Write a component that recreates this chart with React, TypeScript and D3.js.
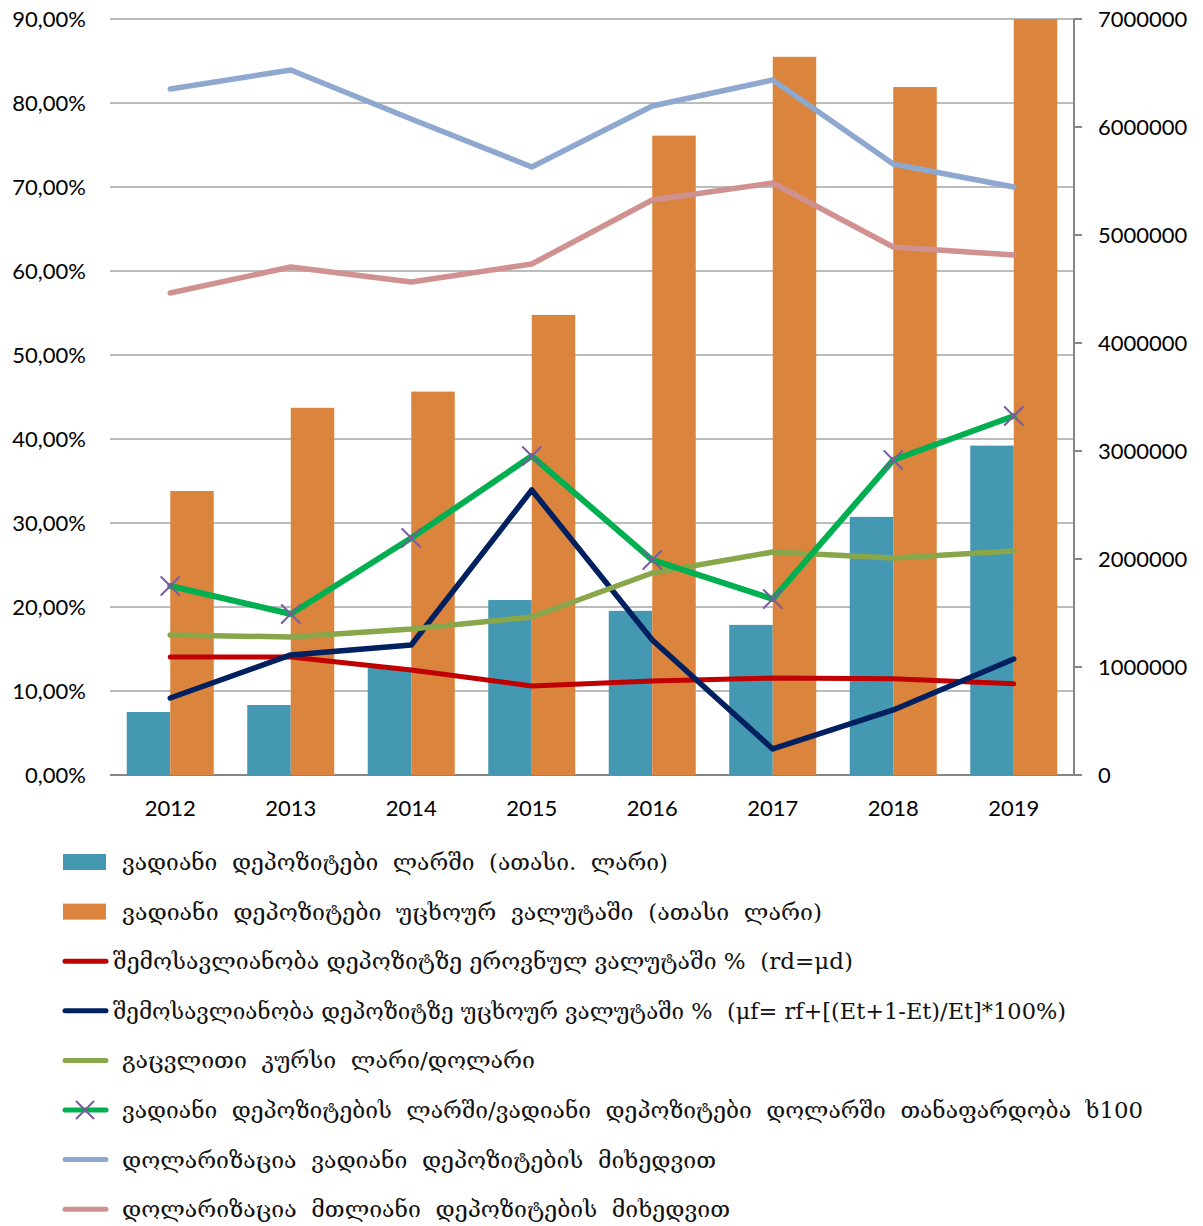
import React from 'react';
import * as d3 from 'd3';

const years = ['2012', '2013', '2014', '2015', '2016', '2017', '2018', '2019'];

// bars, right axis (thousand GEL)
const gelDeposits = [583000, 648000, 990000, 1620000, 1520000, 1390000, 2390000, 3050000];
const fxDeposits = [2630000, 3400000, 3550000, 4260000, 5920000, 6650000, 6370000, 7000000];

// lines, left axis (%)
const gelYield = [14.05, 14.05, 12.5, 10.6, 11.2, 11.55, 11.45, 10.85];
const fxYield = [9.17, 14.29, 15.48, 33.93, 16.07, 3.1, 7.74, 13.81];
const exchangeRate = [16.67, 16.43, 17.38, 18.81, 24.05, 26.55, 25.83, 26.67];
const depositRatio = [22.5, 19.17, 28.21, 37.98, 25.6, 20.95, 37.5, 42.74];
const dollarTerm = [81.67, 83.93, 78.1, 72.38, 79.64, 82.74, 72.74, 70.0];
const dollarTotal = [57.38, 60.48, 58.69, 60.83, 68.45, 70.48, 62.86, 61.9];

const legendLabels = [
  'ვადიანი  დეპოზიტები  ლარში  (ათასი.  ლარი)',
  'ვადიანი  დეპოზიტები  უცხოურ  ვალუტაში  (ათასი  ლარი)',
  'შემოსავლიანობა დეპოზიტზე ეროვნულ ვალუტაში %  (rd=μd)',
  'შემოსავლიანობა დეპოზიტზე უცხოურ ვალუტაში %  (μf= rf+[(Et+1-Et)/Et]*100%)',
  'გაცვლითი  კურსი  ლარი/დოლარი',
  'ვადიანი  დეპოზიტების  ლარში/ვადიანი  დეპოზიტები  დოლარში  თანაფარდობა  ხ100',
  'დოლარიზაცია  ვადიანი  დეპოზიტების  მიხედვით',
  'დოლარიზაცია  მთლიანი  დეპოზიტების  მიხედვით',
];

const TEAL = '#4498b1';
const ORANGE = '#db843d';
const axisFont = 'Lato, "Liberation Sans", sans-serif';
const legendFont = '"DejaVu Serif", "DejaVu Sans", serif';

export default function App() {
  const width = 1203;
  const height = 1226;
  const left = 110, right = 1074, top = 19, bottom = 775;

  const x = d3.scaleBand().domain(years).range([left, right]).padding(0);
  const cx = (y: string) => (x(y) as number) + x.bandwidth() / 2;
  const barW = x.bandwidth() * 0.361;

  const yL = d3.scaleLinear().domain([0, 90]).range([bottom, top]);
  const yR = d3.scaleLinear().domain([0, 7000000]).range([bottom, top]);

  const fmtPct = (v: number) => d3.format('.2f')(v).replace('.', ',') + '%';

  const line = d3.line<number>()
    .x((_, i) => cx(years[i]))
    .y(v => yL(v));

  const lineSeries = [
    { values: gelYield, color: '#c00000', w: 5 },
    { values: fxYield, color: '#002060', w: 5.5 },
    { values: exchangeRate, color: '#8aa64b', w: 5.5 },
    { values: depositRatio, color: '#00b050', w: 6, marker: true },
    { values: dollarTerm, color: '#8ea8d0', w: 5.5 },
    { values: dollarTotal, color: '#d09291', w: 5.5 },
  ];

  // legend
  const legendTop = 862;
  const legendStep = 49.6;
  const legendEnds = [668, 822, 853, 1066, 535, 1143, 716, 730];
  const legendSymbols = [
    { type: 'rect', color: TEAL },
    { type: 'rect', color: ORANGE },
    { type: 'line', color: '#c00000' },
    { type: 'line', color: '#002060' },
    { type: 'line', color: '#8aa64b' },
    { type: 'line', color: '#00b050', marker: true },
    { type: 'line', color: '#8ea8d0' },
    { type: 'line', color: '#d09291' },
  ];

  const cross = (px: number, py: number, key: string) => (
    <g key={key} stroke="#7a5c9e" strokeWidth={2}>
      <line x1={px - 9} y1={py - 9} x2={px + 9} y2={py + 9} />
      <line x1={px - 9} y1={py + 9} x2={px + 9} y2={py - 9} />
    </g>
  );

  return (
    <div style={{ position: 'absolute', left: 0, top: 0 }}>
      <svg width={width} height={height} style={{ display: 'block', background: '#fff' }}>
        {/* gridlines */}
        <g>
          {yL.ticks(9).map(t => (
            <line key={t} x1={left} x2={right} y1={yL(t)} y2={yL(t)}
              stroke={t === 0 ? '#868686' : '#a6a6a6'} strokeWidth={t === 0 ? 2 : 1.6} />
          ))}
        </g>

        {/* bars */}
        <g>
          {years.map((yr, i) => (
            <g key={yr}>
              <rect x={cx(yr) - barW} y={yR(gelDeposits[i])} width={barW}
                height={bottom - yR(gelDeposits[i])} fill={TEAL} />
              <rect x={cx(yr)} y={yR(fxDeposits[i])} width={barW}
                height={bottom - yR(fxDeposits[i])} fill={ORANGE} />
            </g>
          ))}
        </g>

        {/* right axis */}
        <g>
          <line x1={right} x2={right} y1={top} y2={bottom + 1} stroke="#868686" strokeWidth={2} />
          {yR.ticks(7).map(t => (
            <g key={t}>
              <line x1={right} x2={right + 8} y1={yR(t)} y2={yR(t)} stroke="#868686" strokeWidth={2} />
              <text x={1098} y={yR(t)} dy="0.36em" fontFamily={axisFont} fontSize={22} fill="#000">
                {t}
              </text>
            </g>
          ))}
        </g>

        {/* left axis labels */}
        <g>
          {yL.ticks(9).map(t => (
            <text key={t} x={86} y={yL(t)} dy="0.36em" textAnchor="end"
              fontFamily={axisFont} fontSize={22} fill="#000">
              {fmtPct(t)}
            </text>
          ))}
        </g>

        {/* x labels */}
        <g>
          {years.map(yr => (
            <text key={yr} x={cx(yr)} y={808} dy="0.36em" textAnchor="middle"
              fontFamily={axisFont} fontSize={22} fill="#000">
              {yr}
            </text>
          ))}
        </g>

        {/* lines */}
        <g fill="none" strokeLinejoin="round" strokeLinecap="round">
          {lineSeries.map((s, k) => (
            <g key={k}>
              <path d={line(s.values) as string} stroke={s.color} strokeWidth={s.w} fill="none" />
              {s.marker && s.values.map((v, i) => cross(cx(years[i]), yL(v), `m${i}`))}
            </g>
          ))}
        </g>

        {/* legend */}
        <g>
          {legendLabels.map((label, i) => {
            const ly = legendTop + i * legendStep;
            const sym = legendSymbols[i];
            const tx = sym.type === 'rect' ? 122 : (i === 2 || i === 3 ? 113 : 122);
            return (
              <g key={i}>
                {sym.type === 'rect' ? (
                  <rect x={63} y={ly - 8} width={43} height={16} fill={sym.color} />
                ) : (
                  <line x1={65} x2={106} y1={ly} y2={ly} stroke={sym.color} strokeWidth={5}
                    strokeLinecap="round" />
                )}
                {sym.marker && cross(85, ly, 'lm')}
                <text x={tx} y={ly} dy="0.35em" fontFamily={legendFont} fontSize={23}
                  fill="#111" textLength={legendEnds[i] - tx} lengthAdjust="spacingAndGlyphs"
                  style={{ whiteSpace: 'pre' }}>
                  {label}
                </text>
              </g>
            );
          })}
        </g>
      </svg>
    </div>
  );
}
